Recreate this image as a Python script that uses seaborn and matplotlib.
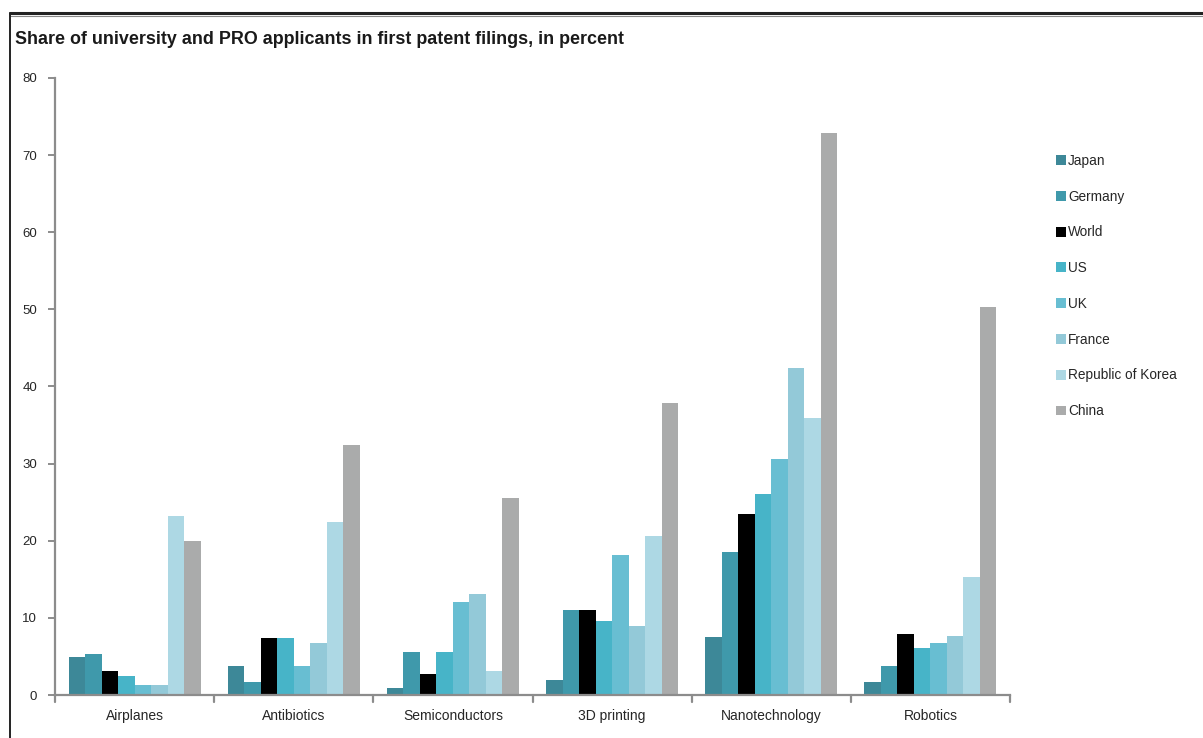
import matplotlib
matplotlib.use("Agg")
import matplotlib.pyplot as plt
import seaborn as sns
import pandas as pd
from matplotlib.lines import Line2D
from matplotlib.patches import Patch

categories = ["Airplanes", "Antibiotics", "Semiconductors", "3D printing", "Nanotechnology", "Robotics"]
countries = ["Japan", "Germany", "World", "US", "UK", "France", "Republic of Korea", "China"]
japan = [4.9, 3.8, 0.9, 2.0, 7.5, 1.7]
germany = [5.3, 1.7, 5.6, 11.0, 18.5, 3.8]
world = [3.1, 7.4, 2.7, 11.0, 23.5, 7.9]
us = [2.5, 7.4, 5.6, 9.6, 26.0, 6.1]
uk = [1.3, 3.8, 12.1, 18.2, 30.6, 6.7]
france = [1.3, 6.7, 13.1, 8.9, 42.4, 7.7]
korea = [23.2, 22.4, 3.1, 20.6, 35.9, 15.3]
china = [20.0, 32.4, 25.6, 37.9, 72.9, 50.3]
y_ticks = [0, 10, 20, 30, 40, 50, 60, 70, 80]
title = "Share of university and PRO applicants in first patent filings, in percent"

series = [japan, germany, world, us, uk, france, korea, china]
colors = ["#3d8898", "#3f99ab", "#000000", "#47b4c8", "#68bed2", "#93c9d8", "#add8e4", "#aaabab"]

rows = []
for c, vals in zip(countries, series):
    for cat, v in zip(categories, vals):
        rows.append({"Technology": cat, "Country": c, "Share": v})
df = pd.DataFrame(rows)

sns.set_theme(style="white")
plt.rcParams["font.family"] = ["Liberation Sans", "DejaVu Sans"]

fig = plt.figure(figsize=(12.03, 7.38), dpi=100)
ax = fig.add_axes([55 / 1203, 1 - 695 / 738, (1010 - 55) / 1203, (695 - 78) / 738])

sns.barplot(data=df, x="Technology", y="Share", hue="Country", order=categories,
            hue_order=countries, palette=colors, width=0.83, saturation=1,
            linewidth=0, ax=ax, legend=False)

ax.set_xlim(-0.5, len(categories) - 0.5)
ax.set_ylim(0, 80)
ax.set_yticks(y_ticks)
ax.set_xlabel("")
ax.set_ylabel("")
for s in ["top", "right"]:
    ax.spines[s].set_visible(False)
for s in ["left", "bottom"]:
    ax.spines[s].set_color("#8c8c8c")
    ax.spines[s].set_linewidth(1.6)

ax.tick_params(axis="y", direction="out", length=5, width=1.4, color="#8c8c8c",
               labelsize=9.5, pad=8, left=True)
ax.set_xticks(range(len(categories)))
ax.set_xticklabels(categories, fontsize=10)
ax.tick_params(axis="x", length=0, pad=10)
for b in [i - 0.5 for i in range(len(categories) + 1)]:
    ax.plot([b, b], [0, -0.012], transform=ax.get_xaxis_transform(), color="#8c8c8c",
            lw=1.6, clip_on=False)

fig.text(15 / 1203, 1 - 39 / 738, title, fontsize=12.9, fontweight="bold",
         color="#1a1a1a", va="center", ha="left")

# frame lines
fig.add_artist(Line2D([10 / 1203, 1], [1 - 13 / 738, 1 - 13 / 738], color="#222222", lw=2.2))
fig.add_artist(Line2D([10 / 1203, 1], [1 - 16 / 738, 1 - 16 / 738], color="#888888", lw=0.8))
fig.add_artist(Line2D([10 / 1203, 10 / 1203], [0, 1 - 13 / 738], color="#222222", lw=1.4))

handles = [Patch(facecolor=col, edgecolor="none", label=c) for c, col in zip(countries, colors)]
fig.legend(handles=handles, loc="upper left", bbox_to_anchor=(1049 / 1203, 1 - 147 / 738),
           frameon=False, fontsize=9.8, handlelength=0.75, handleheight=0.75,
           handletextpad=0.15, labelspacing=1.6, borderpad=0)

fig.savefig("out.png", dpi=100)
